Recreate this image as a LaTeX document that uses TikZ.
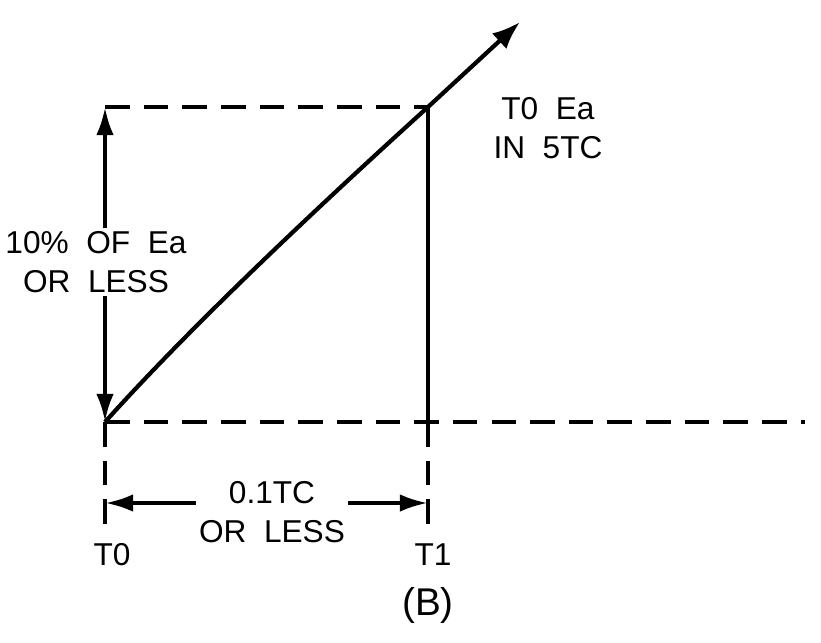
\documentclass[tikz,border=0pt]{standalone}
\usepackage{fontspec}
\setmainfont{Liberation Sans}
\usetikzlibrary{arrows.meta}
\tikzset{
  dash line/.style={line width=2.2pt, dash pattern=on 14pt off 8pt},
  solid line/.style={line width=2.4pt},
  label text/.style={font=\fontsize{18}{22}\selectfont, align=center, inner sep=2pt}
}
\begin{document}
\begin{tikzpicture}[x=0.02cm, y=-0.02cm]
  \useasboundingbox (0,0) rectangle (821,642);
  % corner points
  \coordinate (orig) at (105,422);
  \coordinate (topl) at (105,107);
  \coordinate (topr) at (428,107);
  \coordinate (botr) at (428,422);
  \coordinate (tip) at (520,22);
  \coordinate (farr) at (805,422);
  \coordinate (lowl) at (105,528);
  \coordinate (lowr) at (428,528);
  % dashed guides
  \draw [dash line] (orig) -- (farr);
  \draw [dash line] (topl) -- (topr);
  \draw [dash line] (orig) -- (lowl);
  \draw [dash line] (botr) -- (lowr);
  % curve and vertical
  \draw [solid line] (orig) .. controls (195,322) and (320,205) .. (topr);
  \draw [solid line, -{Latex[length=16pt,width=12pt]}] (topr) -- (tip);
  \draw [solid line] (topr) -- (botr);
  % vertical measure
  \draw [solid line, {Latex[length=16pt,width=10pt]}-{Latex[length=16pt,width=10pt]}] (topl) -- (orig);
  \node [label text, fill=white] (pct) at (96,262) {10\%\ \ OF\ \ Ea\\OR\ \ LESS};
  % horizontal measure
  \coordinate (hl) at (105,503);
  \coordinate (hr) at (428,503);
  \draw [solid line, {Latex[length=16pt,width=10pt]}-{Latex[length=16pt,width=10pt]}] (hl) -- (hr);
  \node [label text, fill=white] (tc) at (272,512) {0.1TC\\OR\ \ LESS};
  % labels
  \node [label text] (tzero) at (112,555) {T0};
  \node [label text] (tone) at (433,555) {T1};
  \node [label text] (ea) at (548,128) {T0\ \ Ea\\IN\ \ 5TC};
  \node [label text, font=\fontsize{22}{26}\selectfont] (capb) at (428,605) {(B)};
\end{tikzpicture}
\end{document}
